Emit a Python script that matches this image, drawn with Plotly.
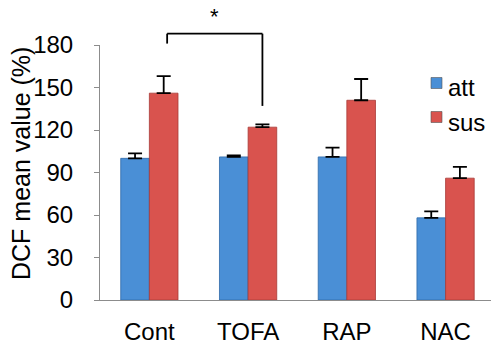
import plotly.graph_objects as go

categories = ["Cont", "TOFA", "RAP", "NAC"]
series_names = ["att", "sus"]
att_values = [100, 101, 101, 58]
att_errors = [3.5, 1, 6.5, 4.5]
sus_values = [146, 122, 141, 86]
sus_errors = [12, 2, 15, 8]
y_ticks = [0, 30, 60, 90, 120, 150, 180]

# significance bracket between Cont/sus and TOFA/sus
sig_pair = (0, 1)
sig_top = 188
sig_legs = (181, 137)
sig_label = "*"

W, H = 491, 344
ML, MR, MT, MB = 100, 0, 45, 44
Y_MAX = 180
X_RANGE = [-0.5, 3.46]

idx = list(range(len(categories)))
FONT = "Arial, Liberation Sans, sans-serif"
blue = "#4a8fd6"
red = "#d9534e"
colors = [blue, red]


def px_to_paper(px, py):
    return (px - ML) / (W - ML - MR), (H - MB - py) / (H - MT - MB)


fig = go.Figure()
fig.add_trace(go.Bar(
    x=idx, y=att_values, name=series_names[0],
    marker=dict(color=blue, line=dict(color="#2f6aa8", width=0.8)),
    error_y=dict(type="data", symmetric=False, array=att_errors,
                 arrayminus=[0] * len(att_errors), color="black",
                 thickness=1.8, width=7),
))
fig.add_trace(go.Bar(
    x=idx, y=sus_values, name=series_names[1],
    marker=dict(color=red, line=dict(color="#a83a36", width=0.8)),
    error_y=dict(type="data", symmetric=False, array=sus_errors,
                 arrayminus=[0] * len(sus_errors), color="black",
                 thickness=1.8, width=7),
))

bargap = 0.42
off = (1 - bargap) / 4
xl = sig_pair[0] + off + 0.035
xr = sig_pair[1] + off
line = dict(color="black", width=1.8)
fig.add_shape(type="line", xref="x", yref="y domain", x0=xl, x1=xl,
              y0=sig_legs[0] / Y_MAX, y1=sig_top / Y_MAX, line=line)
fig.add_shape(type="line", xref="x", yref="y domain", x0=xl, x1=xr,
              y0=sig_top / Y_MAX, y1=sig_top / Y_MAX, line=line)
fig.add_shape(type="line", xref="x", yref="y domain", x0=xr, x1=xr,
              y0=sig_legs[1] / Y_MAX, y1=sig_top / Y_MAX, line=line)

fig.add_annotation(x=(xl + xr) / 2, y=(sig_top + 2) / Y_MAX, text=sig_label,
                   showarrow=False, xref="x", yref="y domain", yanchor="bottom",
                   font=dict(size=22, color="black", family=FONT))

tx, ty = px_to_paper(21, 164)
fig.add_annotation(x=tx, y=ty, xref="paper", yref="paper",
                   text="DCF mean value (%)", textangle=-90, showarrow=False,
                   xanchor="center", yanchor="middle",
                   font=dict(size=25, color="black", family=FONT))

# manual legend
for i, (nm, col) in enumerate(zip(series_names, colors)):
    sq_cy = 83 + 34 * i
    tx_cy = 88 + 34 * i
    x0, y0 = px_to_paper(431, sq_cy + 5.5)
    x1, y1 = px_to_paper(442, sq_cy - 5.5)
    fig.add_shape(type="rect", xref="paper", yref="paper",
                  x0=x0, x1=x1, y0=y0, y1=y1, fillcolor=col,
                  line=dict(color="#555555", width=0.6))
    lx, ly = px_to_paper(446, tx_cy)
    fig.add_annotation(x=lx, y=ly, xref="paper", yref="paper", text=nm,
                       showarrow=False, xanchor="left", yanchor="middle",
                       font=dict(size=24, color="black", family=FONT))

fig.update_layout(
    template="none",
    width=W, height=H,
    margin=dict(l=ML, r=MR, t=MT, b=MB, pad=0),
    paper_bgcolor="white", plot_bgcolor="white",
    barmode="group", bargap=bargap, bargroupgap=0,
    font=dict(family=FONT, size=24, color="black"),
    showlegend=False,
    xaxis=dict(range=X_RANGE, tickmode="array", tickvals=idx,
               ticktext=categories, showline=True, linecolor="#8c8c8c",
               linewidth=1, ticks="", showgrid=False, zeroline=False,
               ticklabelstandoff=10, fixedrange=True, automargin=False),
    yaxis=dict(range=[0, Y_MAX], tickmode="array", tickvals=y_ticks,
               showline=True, linecolor="#8c8c8c", linewidth=1,
               ticks="outside", ticklen=5, tickcolor="#8c8c8c",
               showgrid=False, zeroline=False, ticklabelstandoff=16,
               fixedrange=True, automargin=False),
)

fig.write_html(
    "out.html",
    config={"displayModeBar": False},
    post_script="document.body.style.margin='0';document.body.style.overflow='hidden';",
)
